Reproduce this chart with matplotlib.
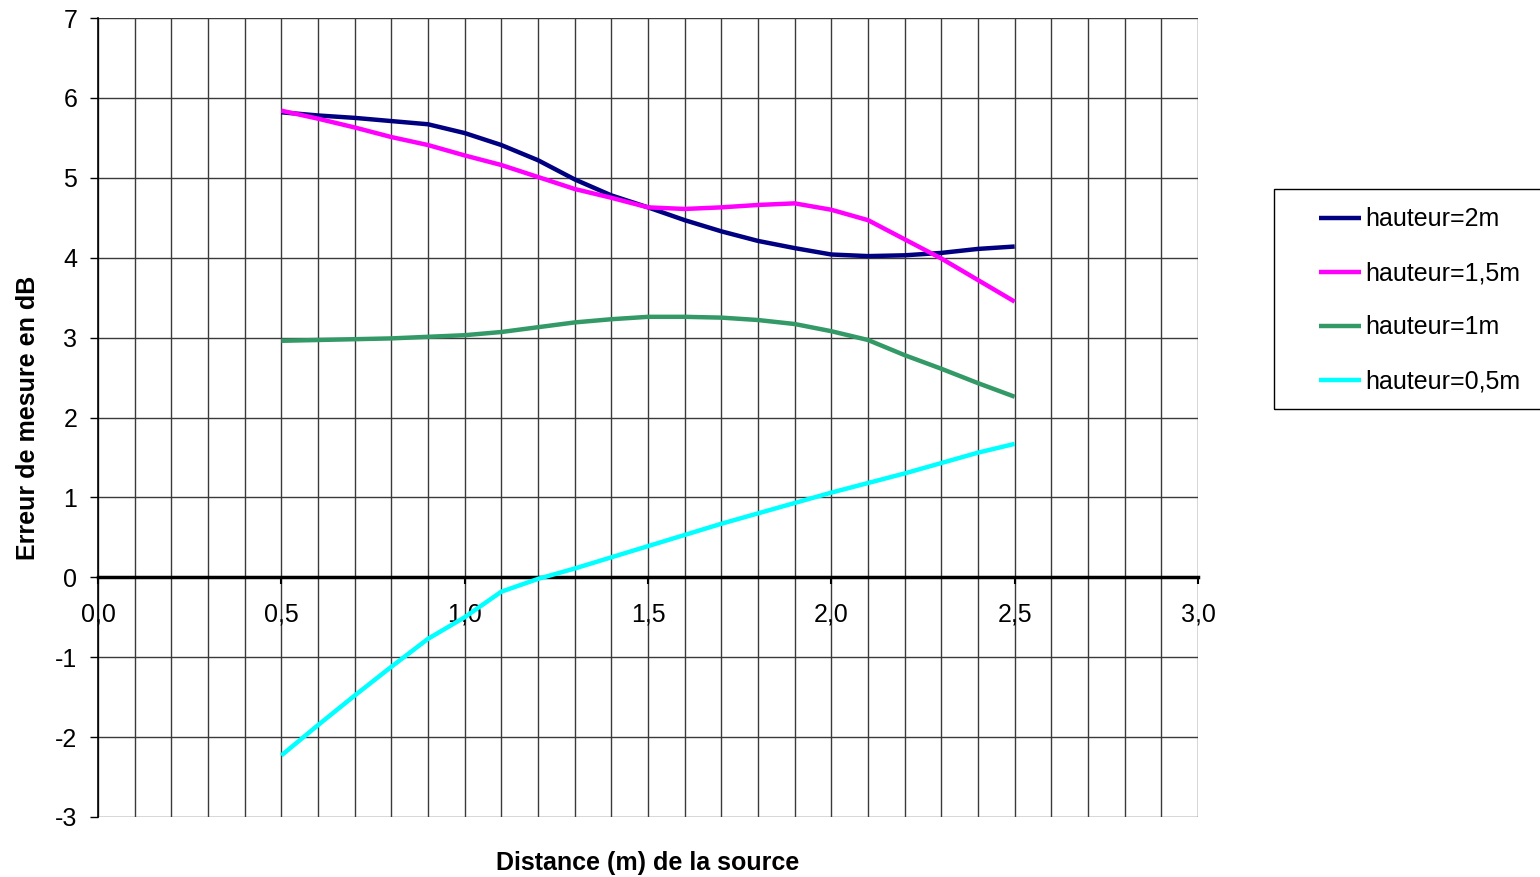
import matplotlib
matplotlib.use("Agg")
import matplotlib.pyplot as plt
from matplotlib.patches import Rectangle
from matplotlib.ticker import MultipleLocator, FuncFormatter

plt.rcParams['font.family'] = ['Liberation Sans', 'DejaVu Sans']

# Distance (m) from the source
distance = [0.5, 0.6, 0.7, 0.8, 0.9, 1.0, 1.1, 1.2, 1.3, 1.4, 1.5,
            1.6, 1.7, 1.8, 1.9, 2.0, 2.1, 2.2, 2.3, 2.4, 2.5]

# Measurement error (dB) for each height
h_2m = [5.82, 5.78, 5.75, 5.71, 5.67, 5.56, 5.41, 5.22, 4.98, 4.78, 4.63,
        4.47, 4.33, 4.21, 4.12, 4.04, 4.02, 4.03, 4.06, 4.11, 4.14]
h_15m = [5.84, 5.74, 5.63, 5.51, 5.41, 5.28, 5.16, 5.01, 4.86, 4.75, 4.63,
         4.61, 4.63, 4.66, 4.68, 4.60, 4.47, 4.23, 3.99, 3.72, 3.45]
h_1m = [2.96, 2.97, 2.98, 2.99, 3.01, 3.03, 3.07, 3.13, 3.19, 3.23, 3.26,
        3.26, 3.25, 3.22, 3.17, 3.08, 2.97, 2.78, 2.61, 2.43, 2.26]
h_05m = [-2.23, -1.85, -1.48, -1.12, -0.77, -0.50, -0.18, -0.02, 0.11, 0.25, 0.39,
         0.53, 0.67, 0.80, 0.93, 1.06, 1.18, 1.30, 1.43, 1.56, 1.67]

labels = ["hauteur=2m", "hauteur=1,5m", "hauteur=1m", "hauteur=0,5m"]
colors = ["#000080", "#FF00FF", "#339966", "#00FFFF"]

fig = plt.figure(figsize=(15.4, 8.77), dpi=100)
ax = fig.add_axes([98/1540, 1 - 817/877, 1100/1540, 799/877])

for y, lab, c in zip([h_2m, h_15m, h_1m, h_05m], labels, colors):
    ax.plot(distance, y, color=c, lw=3.2, label=lab, solid_capstyle='butt', zorder=3)

ax.set_xlim(0, 3.0)
ax.set_ylim(-3, 7)
ax.xaxis.set_major_locator(MultipleLocator(0.5))
ax.xaxis.set_minor_locator(MultipleLocator(0.1))
ax.yaxis.set_major_locator(MultipleLocator(1))
ax.xaxis.set_major_formatter(FuncFormatter(lambda v, p: f"{v:.1f}".replace(".", ",")))
ax.yaxis.set_major_formatter(FuncFormatter(lambda v, p: f"{v:.0f}"))

ax.grid(True, which="both", color="#3a3a3a", lw=1.0, zorder=1)
ax.set_axisbelow(True)

ax.spines['top'].set_visible(False)
ax.spines['right'].set_visible(False)
ax.spines['bottom'].set_position(('data', 0))
ax.spines['bottom'].set_linewidth(2.5)
ax.spines['bottom'].set_zorder(2)
ax.spines['left'].set_linewidth(1.2)

ax.tick_params(axis='x', which='major', direction='out', length=5, width=1.5,
               pad=13, labelsize=18)
ax.tick_params(axis='x', which='minor', length=0)
ax.tick_params(axis='y', direction='out', length=6, width=1, pad=9, labelsize=18)

ax.set_xlabel("Distance (m) de la source", fontsize=18, fontweight='bold')
ax.set_ylabel("Erreur de mesure en dB", fontsize=18, fontweight='bold')
ax.xaxis.set_label_coords(0.5, -0.043)
ax.yaxis.set_label_coords(-0.053, 0.5)

# legend box
fig.add_artist(Rectangle((1274/1540, 1 - 409/877), 280/1540, 220/877,
                         transform=fig.transFigure, fill=False, ec='black', lw=1))
ax.legend(loc='upper left', bbox_to_anchor=(1306/1540, 1 - 195/877),
          bbox_transform=fig.transFigure, frameon=False, fontsize=18,
          borderpad=0, handlelength=1.7, handletextpad=0.18, labelspacing=1.2)

fig.savefig("out.png", dpi=100)
